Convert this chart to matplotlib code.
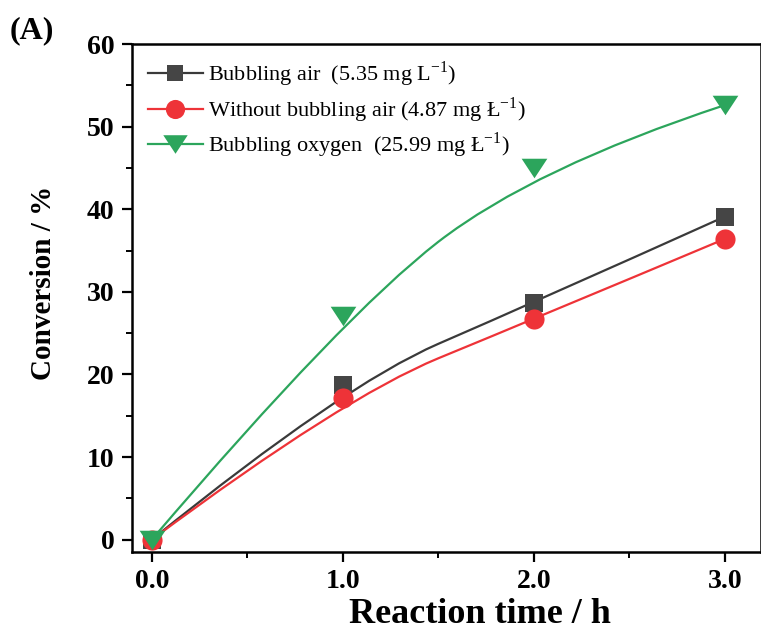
import numpy as np
import matplotlib
matplotlib.use("Agg")
import matplotlib.pyplot as plt
from matplotlib.path import Path
from matplotlib.patches import PathPatch
from matplotlib.ticker import MultipleLocator, FormatStrFormatter

# Conversion data (reaction time in h, conversion in %)
time_h = [0.0, 1.0, 2.0, 3.0]
conv_air = [0.0, 18.7, 28.7, 39.1]
conv_no_air = [0.0, 17.2, 26.7, 36.4]
conv_oxygen = [0.0, 27.1, 45.0, 52.6]

labels = [
    r"Bubbling air  (5.35 mg L$^{\mathregular{-1}}$)",
    r"Without bubbling air (4.87 mg Ł$^{\mathregular{-1}}$)",
    r"Bubbling oxygen  (25.99 mg Ł$^{\mathregular{-1}}$)",
]
colors = ["#454545", "#EE3338", "#2CA55C"]
line_colors = ["#3a3a3a", "#EE3338", "#2CA55C"]


def bspline_path(x, y):
    """Clamped quadratic B-spline using the data points as control points."""
    pts = np.column_stack([x, y])
    verts = [pts[0]]
    codes = [Path.MOVETO]
    n = len(pts)
    for i in range(1, n - 1):
        end = pts[-1] if i == n - 2 else (pts[i] + pts[i + 1]) / 2.0
        verts += [pts[i], end]
        codes += [Path.CURVE3, Path.CURVE3]
    return Path(verts, codes)


plt.rcParams["font.family"] = ["Liberation Serif", "DejaVu Serif"]
plt.rcParams["mathtext.fontset"] = "custom"
plt.rcParams["mathtext.rm"] = "Liberation Serif"

fig = plt.figure(figsize=(7.61, 6.37), dpi=100)
ax = fig.add_axes([0.1735, 0.1334, 0.8265, 0.7975])

tri = [(-1.0, 0.76), (1.0, 0.76), (0.0, -0.76)]
series = [conv_air, conv_no_air, conv_oxygen]
markers = ["s", "o", tri]
msizes = [12.5, 14.5, 18.5]

for i, (y, m, ms) in enumerate(zip(series, markers, msizes)):
    ax.add_patch(PathPatch(bspline_path(time_h, y), fill=False,
                           edgecolor=line_colors[i], lw=1.6, zorder=2 + i))
    ax.plot(time_h, y, linestyle="none", marker=m, markersize=ms,
            color=colors[i], markeredgewidth=0, zorder=5 + i)

# legend proxies: line with marker
handles = []
for i, (m, ms) in enumerate(zip(markers, msizes)):
    h, = ax.plot([], [], color=line_colors[i], lw=1.6, marker=m,
                 markersize=ms * 0.95, markerfacecolor=colors[i],
                 markeredgewidth=0)
    handles.append(h)
ax.legend(handles, labels, loc="upper left", frameon=False, fontsize=16,
          handlelength=2.5, handletextpad=0.2, labelspacing=0.26,
          borderaxespad=0.3, bbox_to_anchor=(0.0, 1.0))

ax.set_xlim(-0.1034, 3.19)
ax.set_ylim(-1.5, 60)
ax.xaxis.set_major_locator(MultipleLocator(1.0))
ax.xaxis.set_minor_locator(MultipleLocator(0.5))
ax.yaxis.set_major_locator(MultipleLocator(10))
ax.yaxis.set_minor_locator(MultipleLocator(5))
ax.xaxis.set_major_formatter(FormatStrFormatter("%.1f"))

for s in ["left", "bottom", "top", "right"]:
    ax.spines[s].set_linewidth(1.8)
ax.tick_params(axis="both", which="major", direction="out", length=7.5,
               width=1.6, labelsize=20, pad=5)
ax.tick_params(axis="both", which="minor", direction="out", length=4,
               width=1.4)
for lab in ax.get_xticklabels() + ax.get_yticklabels():
    lab.set_fontweight("bold")

ax.set_xlabel("Reaction time / h", fontsize=26, fontweight="bold", va="top")
ax.xaxis.set_label_coords(0.553, -0.09)
ax.set_ylabel("Conversion / %", fontsize=21, fontweight="bold")
ax.yaxis.set_label_coords(-0.119, 0.53)

fig.text(0.013, 0.975, "(A)", fontsize=23, fontweight="bold", va="top",
         ha="left")

fig.savefig("out.png", dpi=100)
